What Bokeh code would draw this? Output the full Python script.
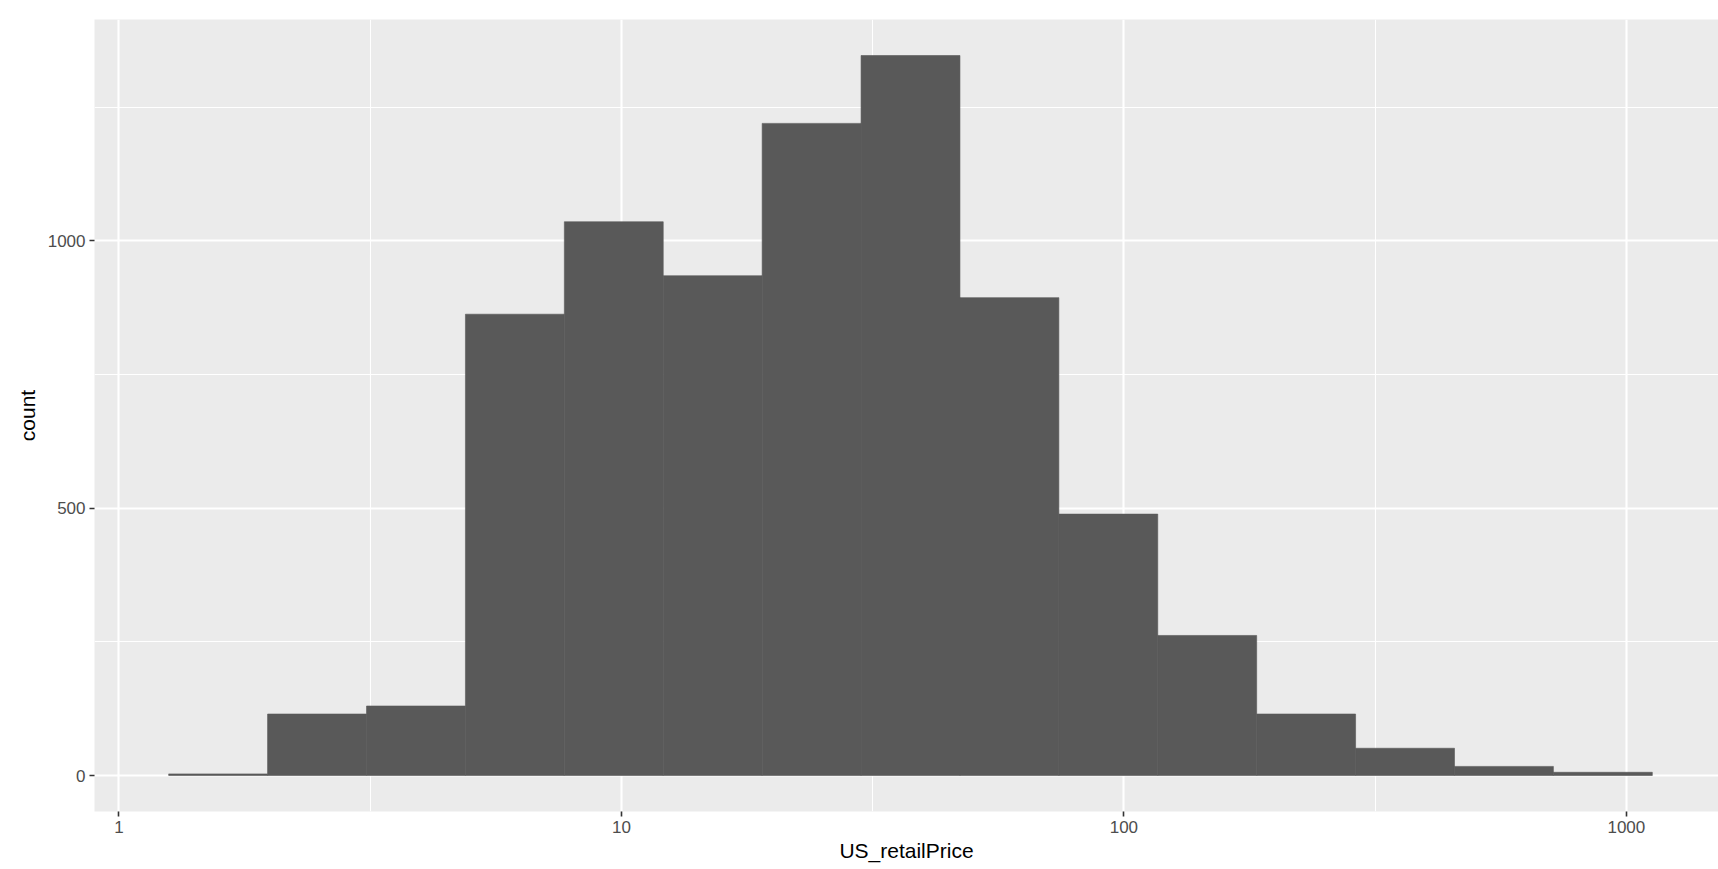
import math
from bokeh.plotting import figure
from bokeh.models import Range1d, FixedTicker, PrintfTickFormatter, ColumnDataSource
from bokeh.embed import file_html
from bokeh.resources import INLINE

# Histogram of US_retailPrice (log10 x scale, 15 bins)
bin_edges = [1.2557, 1.9757, 3.1092, 4.8921, 7.6973, 12.111, 19.056, 29.984,
             47.177, 74.229, 116.79, 183.77, 289.15, 454.96, 715.86, 1126.4]
counts = [3, 115, 130, 863, 1036, 935, 1220, 1347, 894, 489, 262, 115, 51, 17, 6]
x_ticks = [1, 10, 100, 1000]
x_tick_labels = ["1", "10", "100", "1000"]
y_ticks = [0, 500, 1000]
y_minor = [250, 750, 1250]

# ggplot-like expansion (5%) of the log scale; right side slightly cropped as in the screenshot
lo = math.log10(bin_edges[0])
hi = math.log10(bin_edges[-1])
span = hi - lo
x_lo = lo - 0.05 * span
x_hi = hi + 0.05 * span
x_hi_visible = x_lo + (x_hi - x_lo) * (1624.0 / 1632.0)
ymax = max(counts)

src = ColumnDataSource(dict(left=bin_edges[:-1], right=bin_edges[1:], top=counts,
                            bottom=[0] * len(counts)))

p = figure(width=1718, height=869, x_axis_type="log",
           x_range=Range1d(10 ** x_lo, 10 ** x_hi_visible),
           y_range=Range1d(-0.05 * ymax, 1.05 * ymax),
           output_backend="svg", toolbar_location=None,
           min_border_left=94, min_border_top=19, min_border_right=0, min_border_bottom=58)

p.background_fill_color = "#EBEBEB"
p.border_fill_color = "white"
p.outline_line_color = None

p.quad(left="left", right="right", top="top", bottom="bottom", source=src,
       fill_color="#595959", line_color="#595959", line_width=0.6)

xt = FixedTicker(ticks=x_ticks, minor_ticks=[10 ** 0.5, 10 ** 1.5, 10 ** 2.5])
yt = FixedTicker(ticks=y_ticks, minor_ticks=y_minor)
p.xaxis.ticker = xt
p.xgrid.ticker = xt
p.yaxis.ticker = yt
p.ygrid.ticker = yt
p.xaxis.major_label_overrides = {t: l for t, l in zip(x_ticks, x_tick_labels)}
p.xaxis.formatter = PrintfTickFormatter(format="%d")

for g in (p.xgrid, p.ygrid):
    g.grid_line_color = "white"
    g.grid_line_width = 2.1
    g.minor_grid_line_color = "white"
    g.minor_grid_line_width = 1.1

for ax in (p.xaxis, p.yaxis):
    ax.axis_line_color = None
    ax.major_tick_line_color = "#333333"
    ax.major_tick_line_width = 1.6
    ax.major_tick_out = 5
    ax.major_tick_in = 0
    ax.minor_tick_line_color = None
    ax.major_label_text_font = "Liberation Sans"
    ax.major_label_text_font_size = "17px"
    ax.major_label_text_color = "#4D4D4D"
    ax.axis_label_text_font = "Liberation Sans"
    ax.axis_label_text_font_size = "21px"
    ax.axis_label_text_font_style = "normal"
    ax.axis_label_text_color = "black"

p.xaxis.axis_label = "US_retailPrice"
p.yaxis.axis_label = "count"
p.xaxis.major_label_standoff = 4
p.yaxis.major_label_standoff = 4
p.xaxis.axis_label_standoff = 3
p.yaxis.axis_label_standoff = 6

open("out.html", "w").write(file_html(p, INLINE))
